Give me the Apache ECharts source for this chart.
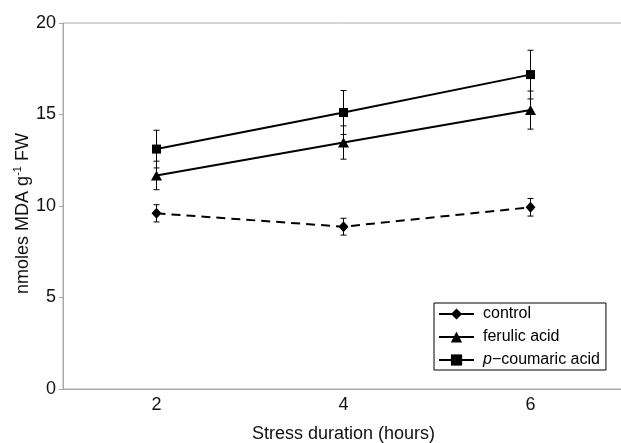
<!DOCTYPE html>
<html>
<head>
<meta charset="utf-8">
<script src="https://cdn.jsdelivr.net/npm/echarts@6/dist/echarts.min.js"></script>
<style>html,body{margin:0;padding:0;background:#fff}#c{width:621px;height:443px}</style>
</head>
<body>
<div id="c"></div>
<script>
var categories = ['2', '4', '6'];
var yTicks = [0, 5, 10, 15, 20];
var controlVals = [9.60, 8.87, 9.93];
var controlErr = [0.47, 0.46, 0.48];
var ferulicVals = [11.67, 13.47, 15.24];
var ferulicErr = [0.78, 0.91, 1.04];
var coumaricVals = [13.11, 15.11, 17.18];
var coumaricErr = [1.03, 1.20, 1.33];

var FONT = 'Liberation Sans, Arial, sans-serif';

function errData(vals, errs) {
  return vals.map(function (v, i) { return [i, v, errs[i]]; });
}
function errSeries(vals, errs) {
  return {
    type: 'custom',
    silent: true,
    z: 1,
    data: errData(vals, errs),
    renderItem: function (params, api) {
      var x = api.value(0), v = api.value(1), e = api.value(2);
      var top = api.coord([x, v + e]);
      var bot = api.coord([x, v - e]);
      var cw = 3;
      var st = { stroke: '#000', lineWidth: 1 };
      return {
        type: 'group',
        children: [
          { type: 'line', shape: { x1: top[0], y1: top[1], x2: bot[0], y2: bot[1] }, style: st },
          { type: 'line', shape: { x1: top[0] - cw, y1: top[1], x2: top[0] + cw, y2: top[1] }, style: st },
          { type: 'line', shape: { x1: bot[0] - cw, y1: bot[1], x2: bot[0] + cw, y2: bot[1] }, style: st }
        ]
      };
    }
  };
}

var chart = echarts.init(document.getElementById('c'));
chart.setOption({
  animation: false,
  backgroundColor: '#fff',
  grid: { left: 63, top: 23, width: 561, height: 366, outerBoundsMode: 'none', containLabel: false, show: true, borderColor: '#aaa', borderWidth: 1, backgroundColor: 'transparent' },
  legend: {
    orient: 'vertical',
    left: 434, top: 303,
    padding: [3, 6, 2, 4],
    itemGap: 7,
    itemWidth: 35, itemHeight: 14,
    borderColor: '#000', borderWidth: 1,
    lineStyle: { type: 'solid', width: 2 },
    data: [
      { name: 'control' },
      { name: 'ferulic acid' },
      { name: 'p\u2212coumaric acid' }
    ],
    formatter: function (n) {
      if (n.indexOf('coumaric') >= 0) return '{i|p}{t|\u2212coumaric acid}';
      return '{t|' + n + '}';
    },
    textStyle: {
      fontFamily: FONT, fontSize: 16, color: '#000', padding: [0, 0, 0, 4],
      rich: {
        t: { fontFamily: FONT, fontSize: 16, color: '#000' },
        i: { fontFamily: FONT, fontSize: 16, color: '#000', fontStyle: 'italic' }
      }
    }
  },
  xAxis: {
    type: 'category',
    data: categories,
    boundaryGap: true,
    axisLine: { lineStyle: { color: '#a8a8a8', width: 1 } },
    axisTick: { length: 4, lineStyle: { color: '#ccc' } },
    axisLabel: { fontFamily: FONT, fontSize: 18, color: '#111', margin: 7 },
    name: 'Stress duration (hours)',
    nameLocation: 'middle',
    nameGap: 36,
    nameMoveOverlap: false,
    nameTextStyle: { fontFamily: FONT, fontSize: 18, color: '#111' }
  },
  yAxis: {
    type: 'value',
    min: 0, max: 20, interval: 5,
    splitLine: { show: false },
    axisLine: { show: true, lineStyle: { color: '#a8a8a8', width: 1 } },
    axisTick: { show: true, length: 4, lineStyle: { color: '#a8a8a8' } },
    axisLabel: {
      fontFamily: FONT, fontSize: 18, color: '#111', margin: 7,
      formatter: function (v) { return yTicks.indexOf(v) >= 0 ? String(v) : ''; }
    },
    name: '{a|nmoles MDA g}{s|-1}{a| FW}',
    nameLocation: 'middle',
    nameGap: 31,
    nameMoveOverlap: false,
    nameTextStyle: {
      padding: [0, 15, 0, 0],
      rich: {
        a: { fontFamily: FONT, fontSize: 18, color: '#111', lineHeight: 20, verticalAlign: 'bottom' },
        s: { fontFamily: FONT, fontSize: 11, color: '#111', lineHeight: 20, verticalAlign: 'top' }
      }
    }
  },
  series: [
    errSeries(controlVals, controlErr),
    errSeries(ferulicVals, ferulicErr),
    errSeries(coumaricVals, coumaricErr),
    {
      name: 'control', type: 'line', data: controlVals, z: 3,
      symbol: 'diamond', symbolSize: [10, 11],
      lineStyle: { color: '#000', width: 2, type: [9, 6] },
      itemStyle: { color: '#000' }
    },
    {
      name: 'ferulic acid', type: 'line', data: ferulicVals, z: 3,
      symbol: 'triangle', symbolSize: [11, 10],
      lineStyle: { color: '#000', width: 2 },
      itemStyle: { color: '#000' }
    },
    {
      name: 'p\u2212coumaric acid', type: 'line', data: coumaricVals, z: 3,
      symbol: 'rect', symbolSize: 9,
      lineStyle: { color: '#000', width: 2 },
      itemStyle: { color: '#000' }
    }
  ]
});
</script>
</body>
</html>
